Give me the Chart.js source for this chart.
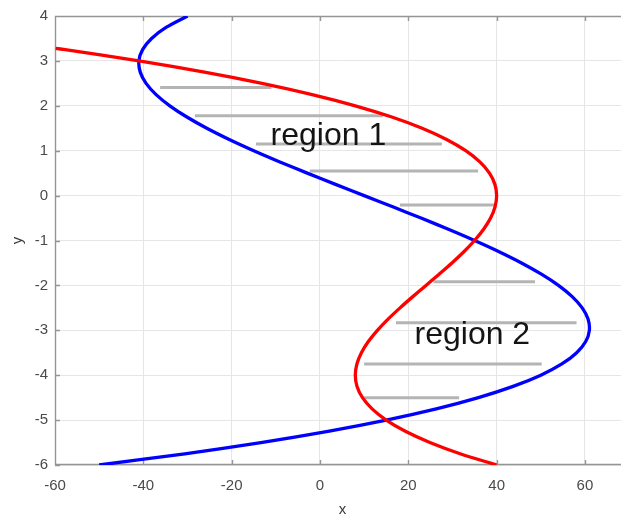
<!DOCTYPE html>
<html>
<head>
<meta charset="utf-8">
<script src="https://cdn.jsdelivr.net/npm/chart.js@4.4.0/dist/chart.umd.min.js"></script>
<style>
  html, body { margin: 0; padding: 0; background: #fff; overflow: hidden; }
  #wrap { width: 640px; height: 519px; }
</style>
</head>
<body>
<div id="wrap"><canvas id="plot" width="640" height="519"></canvas></div>
<script>
// red curve (x as a function of y)
const redY = [3.28, 3.25, 3, 2.75, 2.5, 2.25, 2, 1.75, 1.5, 1.25, 1, 0.75, 0.5, 0.25, 0,
  -0.25, -0.5, -0.75, -1, -1.25, -1.5, -1.75, -2, -2.25, -2.5, -2.75, -3, -3.25, -3.5,
  -3.75, -4, -4.25, -4.5, -4.75, -5, -5.25, -5.5, -5.75, -6];
const redX = [-59.84, -57.70, -41, -26.17, -13.13, -1.77, 8, 16.27, 23.13, 28.67, 33, 36.20,
  38.38, 39.61, 40, 39.64, 38.63, 37.05, 35, 32.58, 29.88, 26.98, 24, 21.02, 18.13, 15.42,
  13, 10.95, 9.38, 8.36, 8, 8.39, 9.63, 11.80, 15, 19.33, 24.88, 31.73, 40];

// blue curve
const blueY = [4, 3.75, 3.5, 3.25, 3, 2.75, 2.5, 2.25, 2, 1.75, 1.5, 1.25, 1, 0.75, 0.5, 0.25, 0,
  -0.25, -0.5, -0.75, -1, -1.25, -1.5, -1.75, -2, -2.25, -2.5, -2.75, -3, -3.25, -3.5,
  -3.75, -4, -4.25, -4.5, -4.75, -5, -5.25, -5.5, -5.75, -6];
const blueX = [-30, -34.77, -38.13, -40.17, -41, -40.70, -39.38, -37.11, -34, -30.14, -25.63,
  -20.55, -15, -9.08, -2.88, 3.52, 10, 16.48, 22.88, 29.08, 35, 40.55, 45.63, 50.14, 54,
  57.11, 59.38, 60.70, 61, 60.17, 58.13, 54.77, 50, 43.73, 35.88, 26.33, 15, 1.80, -13.38,
  -30.61, -50];

// gray hatch segments (one per y)
const hatchY  = [2.41, 1.78, 1.15, 0.55, -0.21, -1.92, -2.83, -3.75, -4.50];
const hatchX0 = [-36.2, -28.3, -14.5, -2.3, 18.1, 25.7, 17.2, 10.0, 10.0];
const hatchX1 = [-11.0, 14.3, 27.6, 35.8, 40.0, 48.7, 58.1, 50.2, 31.5];

// region labels
const regionText = ['region 1', 'region 2'];
const regionX = [1.9, 34.5];
const regionY = [1.12, -3.30];

// axis ticks
const xTicks = [-60, -40, -20, 0, 20, 40, 60];
const yTicks = [-6, -5, -4, -3, -2, -1, 0, 1, 2, 3, 4];

const FONT = '"Liberation Sans", Arial, sans-serif';
const AXIS_GRAY = '#959595';

function toPoints(xs, ys) {
  return xs.map((x, i) => ({ x: x, y: ys[i] }));
}

const datasets = [
  { data: toPoints(redX, redY), borderColor: '#ff0000', borderWidth: 3.3, order: 0 },
  { data: toPoints(blueX, blueY), borderColor: '#0000ff', borderWidth: 3.3, order: 0 }
];
hatchY.forEach((y, i) => {
  datasets.push({
    data: [{ x: hatchX0[i], y: y }, { x: hatchX1[i], y: y }],
    borderColor: '#b4b4b4', borderWidth: 3, order: 1, tension: 0
  });
});
datasets.forEach(d => {
  d.showLine = true;
  d.pointRadius = 0;
  d.fill = false;
  if (d.tension === undefined) d.tension = 0.3;
});

// box, inward ticks and the text labels
const decor = {
  id: 'decor',
  beforeDatasetsDraw(chart) {
    const { ctx, chartArea: a, scales } = chart;
    ctx.save();
    ctx.strokeStyle = AXIS_GRAY;
    ctx.lineWidth = 1.4;
    ctx.beginPath();
    ctx.moveTo(a.right, a.top + 0.5); ctx.lineTo(a.left + 0.5, a.top + 0.5);
    ctx.lineTo(a.left + 0.5, a.bottom - 0.5); ctx.lineTo(a.right, a.bottom - 0.5);
    xTicks.forEach(v => {
      const px = Math.round(scales.x.getPixelForValue(v)) + 0.5;
      ctx.moveTo(px, a.bottom); ctx.lineTo(px, a.bottom - 5);
      ctx.moveTo(px, a.top); ctx.lineTo(px, a.top + 5);
    });
    yTicks.forEach(v => {
      const py = Math.round(scales.y.getPixelForValue(v)) + 0.5;
      ctx.moveTo(a.left, py); ctx.lineTo(a.left + 5, py);
    });
    ctx.stroke();
    ctx.restore();
  },
  afterDatasetsDraw(chart) {
    const { ctx, scales } = chart;
    ctx.save();
    ctx.fillStyle = '#141414';
    ctx.font = '32px ' + FONT;
    ctx.textAlign = 'center';
    ctx.textBaseline = 'alphabetic';
    regionText.forEach((t, i) => {
      ctx.fillText(t, scales.x.getPixelForValue(regionX[i]), scales.y.getPixelForValue(regionY[i]));
    });
    ctx.restore();
  }
};

const tickFont = { family: FONT, size: 15 };

new Chart(document.getElementById('plot'), {
  type: 'scatter',
  data: { datasets: datasets },
  options: {
    responsive: false,
    animation: false,
    layout: { padding: { top: 13, right: 10, left: 0, bottom: 0 } },
    plugins: { legend: { display: false }, tooltip: { enabled: false } },
    scales: {
      x: {
        type: 'linear', min: -60, max: 70.2,
        afterBuildTicks: s => { s.ticks = xTicks.map(v => ({ value: v })); },
        afterFit: s => { s.height = 54; },
        grid: { color: '#e6e6e6', drawTicks: false },
        border: { display: false },
        ticks: { padding: 12, color: '#4a4a4a', font: tickFont, maxRotation: 0, autoSkip: false },
        title: { display: true, text: 'x', color: '#3a3a3a', font: tickFont, padding: { top: 0, bottom: 0 } }
      },
      y: {
        type: 'linear', min: -6, max: 4,
        afterBuildTicks: s => { s.ticks = yTicks.map(v => ({ value: v })); },
        afterFit: s => { s.width = 55; },
        grid: { color: '#e6e6e6', drawTicks: false },
        border: { display: false },
        ticks: { padding: 7, color: '#4a4a4a', font: tickFont, autoSkip: false },
        title: { display: true, text: 'y', color: '#3a3a3a', font: tickFont, padding: { top: 9, bottom: 0 } }
      }
    }
  },
  plugins: [decor]
});
</script>
</body>
</html>
